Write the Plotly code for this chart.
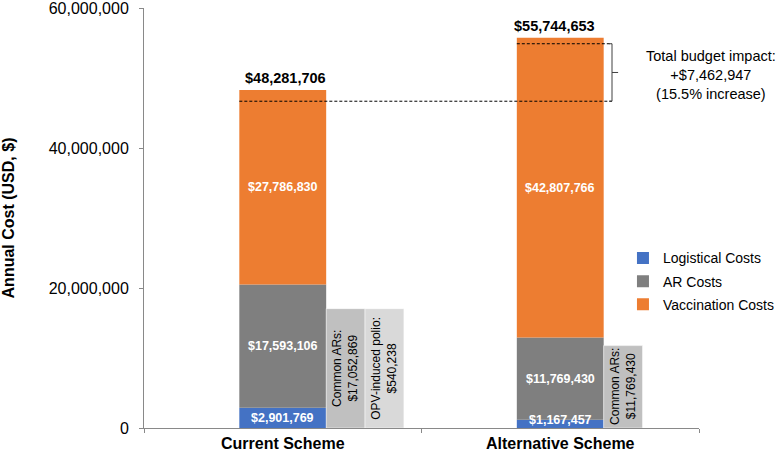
import plotly.graph_objects as go

# ---- data ----
schemes = ["Current Scheme", "Alternative Scheme"]
logistical = [2901769, 1167457]
ar_costs = [17593106, 11769430]
vaccination = [27786830, 42807766]
totals = [48281706, 55744653]

side_labels = ["Common ARs:", "OPV-induced polio:", "Common ARs:"]
side_values = [17052869, 540238, 11769430]
side_heights = [17052869, 17052869, 11769430]   # drawn heights as in the figure
side_scheme = [0, 0, 1]

impact_value = 7462947
impact_pct = 15.5

y_ticks = [0, 20000000, 40000000, 60000000]

# ---- style ----
FONT = "Liberation Sans, Arial, sans-serif"
C_LOG = "#4472C4"
C_AR = "#7F7F7F"
C_VAC = "#ED7D31"
SIDE_COLORS = ["#C0C0C0", "#D9D9D9", "#C0C0C0"]
AXIS_C = "#898989"
MAIN_W = 0.313
SIDE_W = 0.14
side_offsets = [MAIN_W / 2, MAIN_W / 2 + SIDE_W, MAIN_W / 2]


def money(v):
    return "${:,.0f}".format(v)


base_ar = logistical[:]
base_vac = [l + a for l, a in zip(logistical, ar_costs)]

fig = go.Figure()
fig.add_bar(x=schemes, y=logistical, name="Logistical Costs", marker_color=C_LOG,
            width=MAIN_W, legendgroup="a", marker_line_width=0)
fig.add_bar(x=schemes, y=ar_costs, base=base_ar, name="AR Costs", marker_color=C_AR,
            width=MAIN_W, legendgroup="b", marker_line_width=0)
fig.add_bar(x=schemes, y=vaccination, base=base_vac, name="Vaccination Costs",
            marker_color=C_VAC, width=MAIN_W, legendgroup="c", marker_line_width=0)

for i in range(len(side_values)):
    fig.add_bar(x=[schemes[side_scheme[i]]], y=[side_heights[i]], width=SIDE_W,
                offset=side_offsets[i], marker_color=SIDE_COLORS[i],
                marker_line_color="white", marker_line_width=0.5,
                showlegend=False, hoverinfo="skip")
    fig.add_annotation(x=side_scheme[i] + side_offsets[i] + SIDE_W / 2,
                       y=side_heights[i] / 2,
                       text=f"{side_labels[i]}<br>{money(side_values[i])}",
                       textangle=-90, showarrow=False,
                       font=dict(family=FONT, size=12, color="black"))

for i in range(2):
    # in-bar labels
    segs = [(logistical[i], 0), (ar_costs[i], base_ar[i]), (vaccination[i], base_vac[i])]
    for k, (v, b) in enumerate(segs):
        ys = 0
        if k == 0 and v < 2000000:
            ys = 4
        fig.add_annotation(x=i, y=b + v / 2, text=f"<b>{money(v)}</b>", showarrow=False,
                           yshift=ys, font=dict(family=FONT, size=12.5, color="white"))
    fig.add_annotation(x=i, y=totals[i], text=f"<b>{money(totals[i])}</b>", showarrow=False,
                       yanchor="bottom", yshift=2, xshift=3 if i == 0 else -6,
                       font=dict(family=FONT, size=14.5, color="black"))

# budget-impact marks
low_y = totals[0] - 1.6e6
high_y = totals[1] - 0.85e6
left0 = -MAIN_W / 2
left1 = 1 - MAIN_W / 2
br_x = 1 + MAIN_W / 2 + 0.03
DASH = "3px,2px"
fig.add_shape(type="line", x0=left0, x1=br_x, y0=low_y, y1=low_y,
              line=dict(color="black", width=1, dash=DASH))
fig.add_shape(type="line", x0=left1, x1=br_x, y0=high_y, y1=high_y,
              line=dict(color="black", width=1, dash=DASH))
mid_y = (low_y + high_y) / 2
fig.add_shape(type="path",
              path=f"M {br_x - 0.01} {high_y} L {br_x} {high_y} L {br_x} {low_y} L {br_x - 0.01} {low_y}",
              line=dict(color="#404040", width=1))
fig.add_shape(type="line", x0=br_x, x1=br_x + 0.022, y0=mid_y, y1=mid_y,
              line=dict(color="#404040", width=1))
fig.add_annotation(xref="paper", x=1.0216, xanchor="center", y=mid_y, yshift=-3,
                   text=f"Total budget impact:<br>+{money(impact_value)}<br>({impact_pct}% increase)",
                   showarrow=False, align="center",
                   font=dict(family=FONT, size=14.5, color="black"))

fig.update_layout(
    width=780, height=453,
    margin=dict(l=144, r=81, t=8, b=25, autoexpand=False),
    paper_bgcolor="white", plot_bgcolor="white",
    barmode="overlay",
    showlegend=True,
    legend=dict(x=0.863, y=0.442, xanchor="left", yanchor="top", traceorder="grouped",
                tracegroupgap=2, font=dict(family=FONT, size=14, color="black"),
                bgcolor="rgba(0,0,0,0)"),
    font=dict(family=FONT, color="black"),
)
fig.update_xaxes(type="category", range=[-0.5, 1.5], tickson="boundaries",
                 ticks="outside", ticklen=4, tickcolor=AXIS_C, showline=True,
                 linecolor=AXIS_C, linewidth=1, showgrid=False, automargin=False,
                 ticklabelstandoff=1,
                 tickfont=dict(family=FONT, size=16, color="black"),
                 tickvals=schemes, ticktext=[f"<b>{s}</b>" for s in schemes])
fig.update_yaxes(range=[0, 60000100], tickvals=y_ticks,
                 ticktext=["{:,}".format(v) for v in y_ticks],
                 ticks="outside", ticklen=4, tickcolor=AXIS_C, showline=True,
                 linecolor=AXIS_C, linewidth=1, showgrid=False, zeroline=False,
                 automargin=False, ticklabeloverflow="allow", ticklabelstandoff=7,
                 tickfont=dict(family=FONT, size=16, color="black"),
                 title=dict(text="<b>Annual Cost (USD, $)</b>", standoff=32,
                            font=dict(family=FONT, size=16, color="black")))

fig.write_html("out.html", config={"displayModeBar": False},
               post_script="document.body.style.margin='0';")
